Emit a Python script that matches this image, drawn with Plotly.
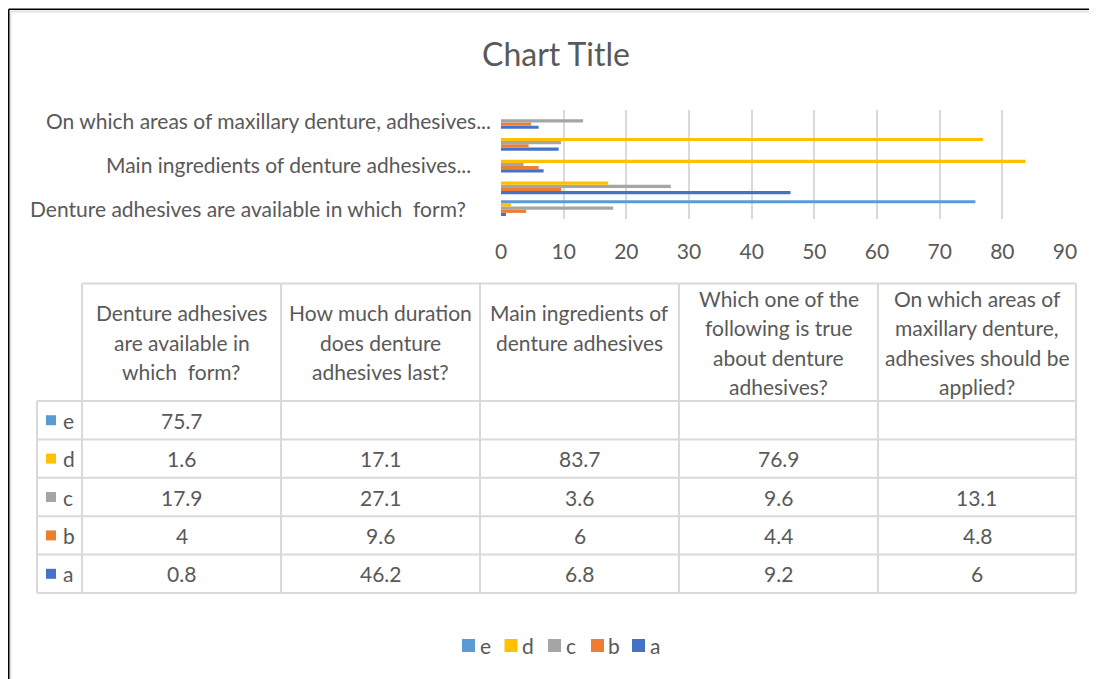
import textwrap
import plotly.graph_objects as go

# ---------------- data ----------------
categories = [
    "Denture adhesives are available in which  form?",
    "How much duration does denture adhesives last?",
    "Main ingredients of denture adhesives",
    "Which one of the following is true about denture adhesives?",
    "On which areas of maxillary denture, adhesives should be applied?",
]
axis_tick_labels = [
    "Denture adhesives are available in which  form?",
    "Main ingredients of denture adhesives...",
    "On which areas of maxillary denture, adhesives...",
]
axis_tick_categories = [categories[0], categories[2], categories[4]]
series_names = ["a", "b", "c", "d", "e"]
a_vals = [0.8, 46.2, 6.8, 9.2, 6]
b_vals = [4, 9.6, 6, 4.4, 4.8]
c_vals = [17.9, 27.1, 3.6, 9.6, 13.1]
d_vals = [1.6, 17.1, 83.7, 76.9, None]
e_vals = [75.7, None, None, None, None]
x_ticks = [0, 10, 20, 30, 40, 50, 60, 70, 80, 90]

series_values = [a_vals, b_vals, c_vals, d_vals, e_vals]
colors = ["#4472C4", "#ED7D31", "#A5A5A5", "#FFC000", "#5B9BD5"]

# ---------------- styling ----------------
OFF = 8  # page body margin
W, H = 1097 - OFF, 679 - OFF
FONT = "Lato"
TXT = "#595959"
GRID = "#D9D9D9"
BODY = 21
PLOT_L, PLOT_R, PLOT_T, PLOT_B = 501, 1065, 110, 219


def X(px):
    return (px - OFF) / W


def Y(py):
    return 1 - (py - OFF) / H


fig = go.Figure()
for name, vals, col in zip(series_names, series_values, colors):
    fig.add_trace(go.Bar(
        y=categories, x=vals, name=name, orientation="h",
        marker=dict(color=col, line=dict(width=0)),
        hoverinfo="x+y+name", showlegend=False,
    ))

shapes = []
annotations = []

# outer chart frame: only left/top edges are visible in the view
for col, wd, xx, yy in [("#E3E3E3", 2, 10.5, 11.5), ("#000000", 1.5, 8.75, 9.25)]:
    shapes.append(dict(type="line", xref="paper", yref="paper",
                       x0=X(xx), x1=X(xx), y0=Y(yy), y1=0, line=dict(color=col, width=wd), layer="below"))
    shapes.append(dict(type="line", xref="paper", yref="paper",
                       x0=X(xx), x1=1, y0=Y(yy), y1=Y(yy), line=dict(color=col, width=wd), layer="below"))

# y-axis category labels (Excel shows every other category)
label_right = [468, 473, 493]
for cat, lab, xr in zip(axis_tick_categories, axis_tick_labels, label_right):
    annotations.append(dict(xref="paper", yref="y", x=X(xr), y=cat, text=lab,
                            showarrow=False, xanchor="right", yanchor="middle",
                            font=dict(family=FONT, size=BODY, color=TXT)))

# ---------------- data table ----------------
col_edges = [82, 281, 480, 679, 878, 1076]
row_hdr_left = 37
hdr_top, hdr_bottom = 283.5, 401
row_h = (593 - hdr_bottom) / len(series_names)
row_edges = [hdr_bottom + i * row_h for i in range(len(series_names) + 1)]
line_style = dict(color=GRID, width=2)

shapes.append(dict(type="line", xref="paper", yref="paper",
                   x0=X(col_edges[0]), x1=X(col_edges[-1]), y0=Y(hdr_top), y1=Y(hdr_top), line=line_style))
for ry in row_edges:
    shapes.append(dict(type="line", xref="paper", yref="paper",
                       x0=X(row_hdr_left), x1=X(col_edges[-1]), y0=Y(ry), y1=Y(ry), line=line_style))
shapes.append(dict(type="line", xref="paper", yref="paper",
                   x0=X(row_hdr_left), x1=X(row_hdr_left), y0=Y(row_edges[0]), y1=Y(row_edges[-1]), line=line_style))
for cx in col_edges:
    shapes.append(dict(type="line", xref="paper", yref="paper",
                       x0=X(cx), x1=X(cx), y0=Y(hdr_top), y1=Y(row_edges[-1]), line=line_style))

# header texts (wrapped, one annotation per line)
line_gap = 29.5
hdr_mid = (hdr_top + hdr_bottom) / 2
for j, cat in enumerate(categories):
    lines = textwrap.wrap(cat, width=19)
    n = max(len(lines), 3)
    first = hdr_mid - (n - 1) / 2 * line_gap
    cx = (col_edges[j] + col_edges[j + 1]) / 2
    for k, ln in enumerate(lines):
        annotations.append(dict(xref="paper", yref="paper", x=X(cx), y=Y(first + k * line_gap),
                                text=ln, showarrow=False, xanchor="center", yanchor="middle",
                                font=dict(family=FONT, size=BODY, color=TXT)))

# rows: e, d, c, b, a from top to bottom
table_order = list(range(len(series_names)))[::-1]
for r, si in enumerate(table_order):
    cy = (row_edges[r] + row_edges[r + 1]) / 2
    shapes.append(dict(type="rect", xref="paper", yref="paper",
                       x0=X(46), x1=X(56), y0=Y(cy - 5), y1=Y(cy + 5),
                       fillcolor=colors[si], line=dict(width=0)))
    annotations.append(dict(xref="paper", yref="paper", x=X(61), y=Y(cy),
                            text=series_names[si], showarrow=False, xanchor="left", yanchor="middle",
                            font=dict(family=FONT, size=BODY, color=TXT)))
    for j, v in enumerate(series_values[si]):
        if v is None:
            continue
        cx = (col_edges[j] + col_edges[j + 1]) / 2
        annotations.append(dict(xref="paper", yref="paper", x=X(cx), y=Y(cy),
                                text=f"{v:g}", showarrow=False, xanchor="center", yanchor="middle",
                                font=dict(family=FONT, size=BODY, color=TXT)))

# ---------------- legend (Excel style: e d c b a) ----------------
leg_centers = [468.5, 511, 554.5, 597.5, 638.5]
leg_y = 645.5
for cxl, si in zip(leg_centers, table_order):
    shapes.append(dict(type="rect", xref="paper", yref="paper",
                       x0=X(cxl - 6.5), x1=X(cxl + 6.5), y0=Y(leg_y - 6.5), y1=Y(leg_y + 6.5),
                       fillcolor=colors[si], line=dict(width=0)))
    annotations.append(dict(xref="paper", yref="paper", x=X(cxl + 9), y=Y(leg_y),
                            text=series_names[si], showarrow=False, xanchor="left", yanchor="middle",
                            font=dict(family=FONT, size=BODY, color=TXT)))

fig.update_layout(
    width=W, height=H, autosize=False,
    template="none",
    paper_bgcolor="white", plot_bgcolor="white",
    margin=dict(l=0, r=0, t=0, b=0),
    barmode="group", bargap=0.27, bargroupgap=0,
    title=dict(text="Chart Title", x=X(556), y=Y(55), xanchor="center", yanchor="middle",
               font=dict(family=FONT, size=32, color=TXT)),
    xaxis=dict(domain=[X(PLOT_L), X(PLOT_R)], range=[0, 90], tickvals=x_ticks,
               showgrid=True, gridcolor=GRID, gridwidth=2, zeroline=False, showline=False,
               ticks="", ticklabelstandoff=18, automargin=False,
               tickfont=dict(family=FONT, size=BODY, color=TXT)),
    yaxis=dict(domain=[Y(PLOT_B), Y(PLOT_T)], type="category",
               categoryorder="array", categoryarray=categories, range=[-0.5, 4.5],
               showticklabels=False, showgrid=False, zeroline=False, showline=False,
               ticks="", automargin=False),
    shapes=shapes, annotations=annotations,
    showlegend=False,
)

fig.write_html("out.html")
